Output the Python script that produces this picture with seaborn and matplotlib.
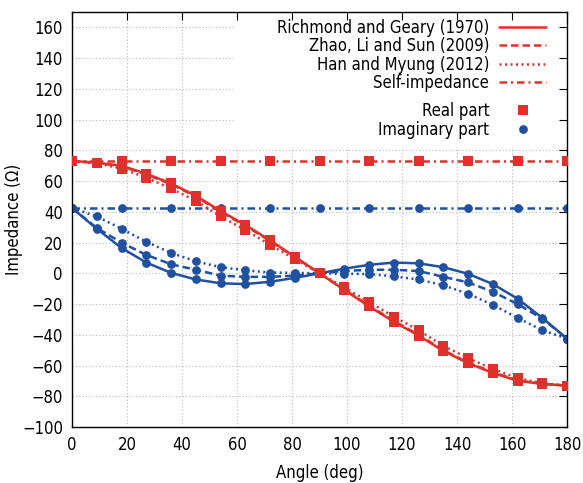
import matplotlib
matplotlib.use("Agg")
import matplotlib.pyplot as plt
from matplotlib.lines import Line2D
from matplotlib.patches import Rectangle
import seaborn as sns

# angles (deg) where the three models were evaluated
angles = [0, 9, 18, 27, 36, 45, 54, 63, 72, 81, 90,
          99, 108, 117, 126, 135, 144, 153, 162, 171, 180]

# real part (ohm)
rg_real = [73.1, 72.0, 70.0, 64.8, 58.5, 50.5, 40.5, 31.5, 21.5, 10.8, 0.0,
           -10.8, -21.5, -31.5, -40.5, -50.5, -58.5, -64.8, -70.0, -72.0, -73.1]
zls_real = [73.1, 71.9, 69.6, 64.3, 58.0, 50.0, 40.0, 31.0, 21.0, 10.5, 0.0,
            -10.5, -21.0, -31.0, -40.0, -50.0, -58.0, -64.3, -69.6, -71.9, -73.1]
hm_real = [73.1, 71.5, 68.2, 62.2, 55.2, 47.2, 37.0, 28.2, 18.6, 9.2, 0.0,
           -9.2, -18.6, -28.2, -37.0, -47.2, -55.2, -62.2, -68.2, -71.5, -73.1]

# imaginary part (ohm)
rg_imag = [42.5, 29.0, 16.5, 7.0, 0.3, -4.0, -6.5, -7.0, -5.5, -3.0, 0.0,
           3.0, 5.5, 7.0, 6.5, 4.0, -0.3, -7.0, -16.5, -29.0, -42.5]
zls_imag = [42.5, 29.5, 20.0, 12.0, 5.9, 2.3, -1.5, -2.3, -2.3, -1.5, 0.0,
            1.5, 2.3, 2.3, 1.5, -2.3, -5.9, -12.0, -20.0, -29.5, -42.5]
hm_imag = [42.5, 37.0, 29.0, 20.5, 13.3, 7.8, 4.0, 2.0, 0.5, 0.3, 0.0,
           -0.3, -0.5, -2.0, -4.0, -7.8, -13.3, -20.5, -29.0, -37.0, -42.5]

# self-impedance 73.1 + j42.5
self_angles = [0, 18, 36, 54, 72, 90, 108, 126, 144, 162, 180]
self_real = [73.1, 73.1, 73.1, 73.1, 73.1, 73.1, 73.1, 73.1, 73.1, 73.1, 73.1]
self_imag = [42.5, 42.5, 42.5, 42.5, 42.5, 42.5, 42.5, 42.5, 42.5, 42.5, 42.5]

labels = ["Richmond and Geary (1970)", "Zhao, Li and Sun (2009)",
          "Han and Myung (2012)", "Self-impedance"]
xticks = [0, 20, 40, 60, 80, 100, 120, 140, 160, 180]
yticks = [-100, -80, -60, -40, -20, 0, 20, 40, 60, 80, 100, 120, 140, 160]

sns.set_theme(style="white")
plt.rcParams["font.family"] = ["DejaVu Sans"]
plt.rcParams["font.stretch"] = "condensed"
plt.rcParams["text.color"] = "black"
plt.rcParams["axes.labelcolor"] = "black"

red = "#e0302c"
blue = "#2050a0"
lw = 1.8
styles = ["-", (0, (3, 1.6)), (0, (0.8, 1.4)), (0, (3, 1.6, 0.8, 1.6))]

fig, ax = plt.subplots(figsize=(5.83, 4.83), dpi=100)
fig.subplots_adjust(left=0.1235, right=0.9726, top=0.975, bottom=0.116)

# grid by hand, so the key box can hide it
for v in xticks[1:-1]:
    ax.axvline(v, color="#b8b8b8", lw=0.8, ls=(0, (1, 2)), zorder=0.3)
for v in yticks[1:]:
    ax.axhline(v, color="#b8b8b8", lw=0.8, ls=(0, (1, 2)), zorder=0.3)
ax.add_patch(Rectangle((0.33, 0.675), 0.67, 0.325, transform=ax.transAxes,
                       facecolor="white", edgecolor="none", zorder=0.4))

imag_sets = [(angles, rg_imag), (angles, zls_imag), (angles, hm_imag), (self_angles, self_imag)]
real_sets = [(angles, rg_real), (angles, zls_real), (angles, hm_real), (self_angles, self_real)]

for (xs, ys), ls in zip(imag_sets, styles):
    sns.lineplot(x=xs, y=ys, ax=ax, color=blue, linestyle=ls, lw=lw,
                 marker="o", markersize=6.3, markeredgewidth=0, zorder=2)
for (xs, ys), ls in zip(real_sets, styles):
    sns.lineplot(x=xs, y=ys, ax=ax, color=red, linestyle=ls, lw=lw,
                 marker="s", markersize=6.8, markeredgewidth=0, zorder=3)

ax.set_xlim(0, 180)
ax.set_ylim(-100, 170)
ax.set_xticks(xticks)
ax.set_yticks(yticks)
ax.tick_params(direction="in", length=6, width=0.8, colors="black",
               top=True, right=True, labelsize=12, pad=6.5)
for s in ax.spines.values():
    s.set_color("black")
    s.set_linewidth(1.0)
ax.set_xlabel("Angle (deg)", fontsize=12, labelpad=7)
ax.set_ylabel("Impedance (Ω)", fontsize=12, labelpad=-1)

line_handles = [Line2D([], [], color=red, lw=lw, ls=ls) for ls in styles]
leg1 = ax.legend(line_handles, labels, loc="upper right", bbox_to_anchor=(0.971, 1.0),
                 borderaxespad=0, borderpad=0.4, frameon=False, markerfirst=False,
                 handlelength=2.8, handletextpad=0.6, labelspacing=0.03, fontsize=12)
for col in leg1._legend_box._children[-1]._children:
    col.align = "right"
ax.add_artist(leg1)

part_handles = [Line2D([], [], color=red, ls="none", marker="s", markersize=6.8, markeredgewidth=0),
                Line2D([], [], color=blue, ls="none", marker="o", markersize=6.3, markeredgewidth=0)]
leg2 = ax.legend(part_handles, ["Real part", "Imaginary part"], loc="upper right",
                 bbox_to_anchor=(0.971, 0.800), borderaxespad=0, borderpad=0.4,
                 frameon=False, markerfirst=False, handlelength=2.8, handletextpad=0.6,
                 labelspacing=0.08, fontsize=12, numpoints=1)
for col in leg2._legend_box._children[-1]._children:
    col.align = "right"

fig.savefig("out.png", dpi=100)
